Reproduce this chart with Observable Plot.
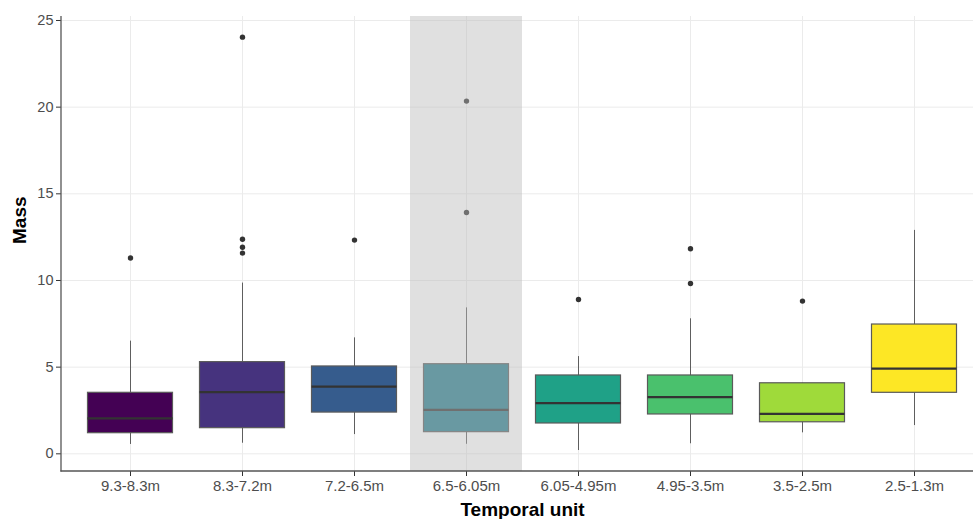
<!DOCTYPE html>
<html>
<head>
<meta charset="utf-8">
<script src="https://cdn.jsdelivr.net/npm/d3@7"></script>
<script src="https://cdn.jsdelivr.net/npm/@observablehq/plot@0.6"></script>
<style>
  html, body { margin: 0; padding: 0; background: #fff; }
  #chart svg { display: block; }
</style>
</head>
<body>
<div id="chart"></div>
<script>
// ---- data ----
const categories = ["9.3-8.3m", "8.3-7.2m", "7.2-6.5m", "6.5-6.05m", "6.05-4.95m", "4.95-3.5m", "3.5-2.5m", "2.5-1.3m"];
const whiskerLow  = [0.54, 0.61, 1.11, 0.55, 0.19, 0.58, 1.21, 1.63];
const q1          = [1.19, 1.48, 2.38, 1.25, 1.75, 2.27, 1.82, 3.52];
const median      = [2.04, 3.56, 3.88, 2.54, 2.92, 3.27, 2.31, 4.92];
const q3          = [3.52, 5.29, 5.04, 5.17, 4.52, 4.52, 4.07, 7.46];
const whiskerHigh = [6.50, 9.85, 6.69, 8.42, 5.61, 7.79, 4.07, 12.89];
const outlierCategory = ["9.3-8.3m", "8.3-7.2m", "8.3-7.2m", "8.3-7.2m", "8.3-7.2m", "7.2-6.5m", "6.5-6.05m", "6.5-6.05m", "6.05-4.95m", "4.95-3.5m", "4.95-3.5m", "3.5-2.5m"];
const outlierValue    = [11.3, 24.04, 12.38, 11.92, 11.58, 12.33, 20.35, 13.92, 8.9, 11.83, 9.83, 8.81];
const highlighted = ["6.5-6.05m"];
const colors = ["#440154", "#46337E", "#365C8D", "#277F8E", "#1FA187", "#4AC16D", "#9FDA3A", "#FDE725"];
const yTicks = [0, 5, 10, 15, 20, 25];
const yDomain = [-1.02, 25.23];
const xTitle = ["Temporal unit"];
const yTitle = ["Mass"];

const stats = categories.map((c, i) => ({
  cat: c, lo: whiskerLow[i], q1: q1[i], med: median[i], q3: q3[i], hi: whiskerHigh[i]
}));
const outliers = outlierCategory.map((c, i) => ({cat: c, v: outlierValue[i]}));

// axis lines along the panel's left and bottom edges
const axisLines = (index, scales, values, dim) => {
  const g = d3.create("svg:g");
  const x0 = dim.marginLeft, x1 = dim.width - dim.marginRight;
  const y0 = dim.marginTop, y1 = dim.height - dim.marginBottom;
  g.append("line").attr("x1", x0).attr("x2", x0).attr("y1", y0).attr("y2", y1 + 0.6)
    .attr("stroke", "#555").attr("stroke-width", 1.3);
  g.append("line").attr("x1", x0 - 0.6).attr("x2", x1).attr("y1", y1).attr("y2", y1)
    .attr("stroke", "#555").attr("stroke-width", 1.3);
  return g.node();
};

const chart = Plot.plot({
  width: 973,
  height: 519,
  marginLeft: 61,
  marginRight: 0,
  marginTop: 16,
  marginBottom: 48,
  style: {fontFamily: "'Liberation Sans', Arial, sans-serif", fontSize: "14px", background: "#fff"},
  x: {type: "band", domain: categories, range: [73.2, 971.5], padding: 0, axis: null},
  y: {domain: yDomain, axis: null},
  color: {domain: categories, range: colors},
  marks: [
    Plot.gridY(yTicks, {stroke: "#ebebeb", strokeOpacity: 1, strokeWidth: 1}),
    Plot.gridX(categories, {stroke: "#ebebeb", strokeOpacity: 1, strokeWidth: 1}),
    Plot.ruleX(stats, {x: "cat", y1: "lo", y2: "hi", stroke: "#5e5e5e", strokeWidth: 1}),
    Plot.barY(stats, {x: "cat", y1: "q1", y2: "q3", fill: "cat", stroke: "#5a5a5a", strokeWidth: 1.2, insetLeft: 13.5, insetRight: 13.5}),
    Plot.tickY(stats, {x: "cat", y: "med", stroke: "#333", strokeWidth: 2.2, insetLeft: 13.5, insetRight: 13.5}),
    Plot.dot(outliers, {x: "cat", y: "v", r: 2.7, fill: "#333", stroke: null}),
    Plot.cell(highlighted, {x: d => d, fill: "#bbbbbb", fillOpacity: 0.45, inset: 0}),
    Plot.axisY(yTicks, {tickSize: 5, tickPadding: 3, fontSize: 14.5, color: "#4d4d4d", stroke: "#333", label: null}),
    Plot.axisX(categories, {tickSize: 5, tickPadding: 4, fontSize: 15, color: "#4d4d4d", stroke: "#333", label: null}),
    axisLines,
    Plot.text(yTitle, {frameAnchor: "left", rotate: -90, dx: -42, fontWeight: "bold", fontSize: 19, fill: "#000"}),
    Plot.text(xTitle, {frameAnchor: "bottom", dx: 5, dy: 44, fontWeight: "bold", fontSize: 19, fill: "#000"})
  ]
});
document.getElementById("chart").appendChild(chart);
</script>
</body>
</html>
